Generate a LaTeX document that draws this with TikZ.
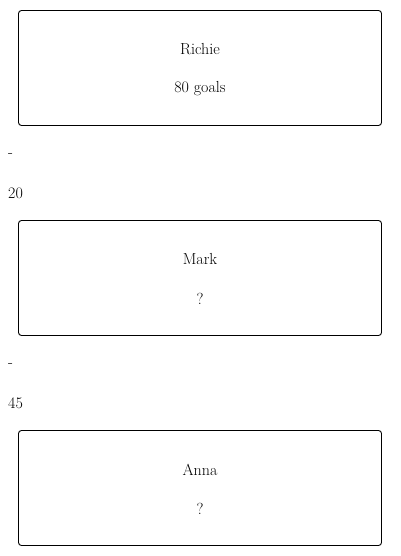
\documentclass[tikz,border=0pt]{standalone}
\begin{document}
\begin{tikzpicture}[x=1pt,y=-1pt,
  card/.style={draw, line width=0.9pt, rounded corners=3pt, minimum width=363pt, minimum height=115pt, inner sep=0pt},
  txt/.style={font=\fontsize{16}{18}\selectfont, inner sep=0pt},
  side/.style={font=\fontsize{16}{18}\selectfont, inner sep=0pt, anchor=west}]
\useasboundingbox (0,0) rectangle (400,556);
\node[card] (b1) at (200,68) {};
\node[txt] (t1a) at (200,49.5) {Richie};
\node[txt] (t1b) at (200,88.5) {80 goals};
\node[side] (d1) at (8,156) {-};
\node[side] (n1) at (8,193.5) {20};
\node[card] (b2) at (200,278) {};
\node[txt] (t2a) at (200,259.5) {Mark};
\node[txt] (t2b) at (200,298.5) {?};
\node[side] (d2) at (8,366) {-};
\node[side] (n2) at (8,403.5) {45};
\node[card] (b3) at (200,488) {};
\node[txt] (t3a) at (200,469.5) {Anna};
\node[txt] (t3b) at (200,508.5) {?};
\end{tikzpicture}
\end{document}
